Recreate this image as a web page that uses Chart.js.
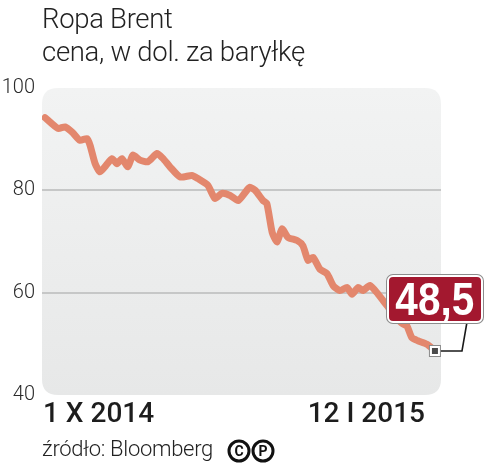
<!DOCTYPE html>
<html lang="pl">
<head>
<meta charset="utf-8">
<script src="https://cdn.jsdelivr.net/npm/chart.js@4/dist/chart.umd.min.js"></script>
<style>
    html, body { margin: 0; padding: 0; background: #fff; }
    #wrap { position: relative; width: 490px; height: 473px; overflow: hidden; font-family: Roboto, "Noto Sans", sans-serif; color: #222; }
    #chart { position: absolute; left: 0; top: 0; }
    .title { position: absolute; left: 42px; font-size: 27.5px; font-weight: 300; line-height: 1; letter-spacing: -0.3px; }
    .xlab { position: absolute; top: 399px; font-size: 28px; font-weight: 500; line-height: 1; color: #1d1d1d; }
    #src { position: absolute; left: 42px; top: 438px; font-size: 22px; font-weight: 300; line-height: 1; letter-spacing: -0.3px; }
    #badge {
        position: absolute; left: 387px; top: 275px; width: 92px; height: 44px;
        background: #a3182f; border: 2px solid #fff; border-radius: 6px; box-shadow: 0 0 0 1px #8c8c8c;
        color: #fff; font-family: "Liberation Sans", Arial, sans-serif; font-weight: 700;
        font-size: 46px; line-height: 44px; text-align: center; white-space: nowrap;
    }
    #badge span { display: inline-block; transform: scaleX(0.88); transform-origin: center; }
</style>
</head>
<body>
<div id="wrap">
    <canvas id="chart" width="490" height="473"></canvas>
    <div class="title" style="top:5px">Ropa Brent</div>
    <div class="title" style="top:38px">cena, w dol. za baryłkę</div>
    <div class="xlab" id="xFirst" style="left:43px"></div>
    <div class="xlab" id="xLast" style="right:65px"></div>
    <div id="src">źródło: Bloomberg</div>
    <div id="badge"><span id="badgeText"></span></div>
</div>
<script>
// days since 1 X 2014 and Brent price (USD per barrel)
const days = [0, 3.4, 5.3, 7.4, 9.2, 11.1, 11.9, 13.2, 14.5, 15.8, 17.7, 19.0, 20.3, 21.9, 23.2, 25.1,
    27.2, 29.6, 31.2, 33.0, 35.7, 38.8, 40.4, 43.0, 44.9, 46.7, 48.9, 51.0, 53.3, 54.1, 55.5, 57.6,
    58.6, 60.0, 61.3, 62.6, 64.2, 66.6, 68.1, 69.5, 70.8, 72.6, 74.5, 76.1, 77.9, 79.8, 81.1, 82.7,
    84.0, 85.8, 88.0, 90.3, 92.4, 94.3, 95.6, 96.9, 98.5, 100.9, 103];
const prices = [94.2, 92.1, 92.4, 91.2, 89.8, 90.1, 88.8, 85.3, 83.6, 84.6, 86.2, 85.2, 86.2, 84.6, 86.9, 85.9,
    85.6, 87.2, 86.2, 84.6, 82.6, 82.9, 82.3, 81.0, 78.4, 79.4, 79.0, 78.0, 80.0, 80.6, 80.0, 78.0,
    77.4, 71.8, 69.9, 72.5, 70.8, 70.2, 69.2, 66.3, 66.9, 64.6, 63.7, 61.4, 60.4, 61.0, 59.7, 61.0,
    60.4, 61.4, 59.7, 57.5, 55.5, 54.0, 53.5, 51.2, 50.6, 49.9, 48.6];
const yTicks = [40, 60, 80, 100];
const xTickLabels = ["1 X 2014", "12 I 2015"];
const lastValueLabel = "48,5";

const LINE_COLOR = "#e3876d";
const GRID_COLOR = "#c6c7c7";

document.getElementById("xFirst").textContent = xTickLabels[0];
document.getElementById("xLast").textContent = xTickLabels[1];
document.getElementById("badgeText").textContent = lastValueLabel;

function roundRect(ctx, x, y, w, h, r) {
    ctx.beginPath();
    ctx.moveTo(x + r, y);
    ctx.lineTo(x + w - r, y);
    ctx.quadraticCurveTo(x + w, y, x + w, y + r);
    ctx.lineTo(x + w, y + h - r);
    ctx.quadraticCurveTo(x + w, y + h, x + w - r, y + h);
    ctx.lineTo(x + r, y + h);
    ctx.quadraticCurveTo(x, y + h, x, y + h - r);
    ctx.lineTo(x, y + r);
    ctx.quadraticCurveTo(x, y, x + r, y);
    ctx.closePath();
}

// rounded grey panel behind the plot
const panelPlugin = {
    id: "panel",
    beforeDraw(chart) {
        const { ctx, chartArea: a } = chart;
        const g = ctx.createLinearGradient(0, a.top, 0, a.bottom);
        g.addColorStop(0, "#f2f3f3");
        g.addColorStop(1, "#e7e8e8");
        ctx.save();
        ctx.fillStyle = g;
        roundRect(ctx, a.left, a.top, a.right - a.left, a.bottom - a.top, 16);
        ctx.fill();
        ctx.restore();
    },
};

// marker on the last point and the connector to the value badge
const markerPlugin = {
    id: "marker",
    afterDatasetsDraw(chart) {
        const { ctx, scales } = chart;
        const i = days.length - 1;
        const px = scales.x.getPixelForValue(days[i]);
        const py = scales.y.getPixelForValue(prices[i]);
        ctx.save();
        ctx.strokeStyle = "#1a1a1a";
        ctx.lineWidth = 1.6;
        ctx.beginPath();
        ctx.moveTo(px, py);
        ctx.lineTo(462, py);
        ctx.lineTo(467, 322);
        ctx.stroke();
        ctx.fillStyle = "#8a8a8a";
        ctx.fillRect(px - 6, py - 6, 12, 12);
        ctx.fillStyle = "#fff";
        ctx.fillRect(px - 5, py - 5, 10, 10);
        ctx.fillStyle = "#4a4a4a";
        ctx.fillRect(px - 3, py - 3, 6, 6);
        ctx.restore();
    },
};

// circled C and P after the source line
const iconsPlugin = {
    id: "icons",
    afterDraw(chart) {
        const ctx = chart.ctx;
        ctx.save();
        [["C", 239], ["P", 263]].forEach(([ch, cx]) => {
            ctx.beginPath();
            ctx.arc(cx, 451, 10, 0, Math.PI * 2);
            ctx.lineWidth = 3;
            ctx.strokeStyle = "#111";
            ctx.stroke();
            ctx.fillStyle = "#111";
            ctx.font = "bold 14px Roboto, sans-serif";
            ctx.textAlign = "center";
            ctx.textBaseline = "middle";
            ctx.fillText(ch, cx, 452);
        });
        ctx.restore();
    },
};

new Chart(document.getElementById("chart"), {
    type: "line",
    data: {
        datasets: [{
            data: days.map((d, i) => ({ x: d, y: prices[i] })),
            borderColor: LINE_COLOR,
            borderWidth: 7,
            pointRadius: 0,
            tension: 0.2,
            borderJoinStyle: "round",
            borderCapStyle: "round",
        }],
    },
    options: {
        responsive: false,
        animation: false,
        events: [],
        layout: { padding: { top: 88, right: 49, bottom: 78, left: 0 } },
        plugins: { legend: { display: false }, tooltip: { enabled: false } },
        scales: {
            x: {
                type: "linear",
                min: -0.8,
                max: 104.6,
                display: false,
            },
            y: {
                min: 40,
                max: 100,
                afterBuildTicks: (axis) => { axis.ticks = yTicks.map((v) => ({ value: v })); },
                afterFit: (axis) => { axis.width = 42; },
                border: { display: false },
                grid: {
                    drawTicks: false,
                    lineWidth: 2,
                    color: (c) => (c.tick && (c.tick.value === 60 || c.tick.value === 80) ? GRID_COLOR : "rgba(0,0,0,0)"),
                },
                ticks: {
                    padding: 7,
                    color: "#2a2a2a",
                    font: { family: "Roboto, sans-serif", size: 20, weight: 300 },
                },
            },
        },
    },
    plugins: [panelPlugin, markerPlugin, iconsPlugin],
});
</script>
</body>
</html>
